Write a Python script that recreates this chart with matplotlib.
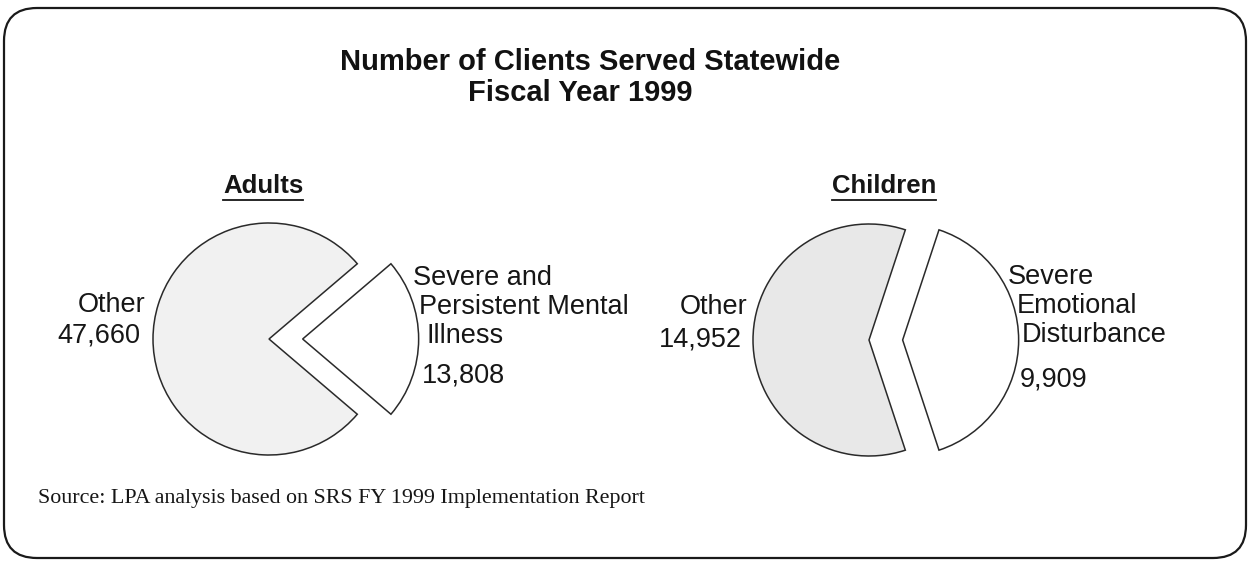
import matplotlib
matplotlib.use("Agg")
import matplotlib.pyplot as plt
from matplotlib.patches import FancyBboxPatch
from matplotlib.lines import Line2D

plt.rcParams["font.family"] = ["Liberation Sans", "DejaVu Sans"]

# ---- data -------------------------------------------------------------
title_lines = ["Number of Clients Served Statewide", "Fiscal Year 1999"]
group_names = ["Adults", "Children"]
other_label = "Other"
adult_counts = [47660, 13808]          # Other, Severe and Persistent Mental Illness
child_counts = [14952, 9909]           # Other, Severe Emotional Disturbance
adult_target_lines = ["Severe and", "Persistent Mental", "Illness"]
child_target_lines = ["Severe", "Emotional", "Disturbance"]
source_note = "Source: LPA analysis based on SRS FY 1999 Implementation Report"

# ---- layout (pixels, y measured from the top) ---------------------------
W, H = 1249, 564
R_PX = 116
fig = plt.figure(figsize=(W / 100, H / 100), dpi=100)
fig.patch.set_facecolor("white")

ov = fig.add_axes([0, 0, 1, 1])
ov.set_xlim(0, W)
ov.set_ylim(H, 0)
ov.axis("off")

# rounded frame
frame = FancyBboxPatch((4, 8), 1242, 550, boxstyle="round,pad=0,rounding_size=33",
                       facecolor="none", edgecolor="#1a1a1a", linewidth=1.6)
ov.add_patch(frame)

# title
ov.text(590, 62, title_lines[0], ha="center", va="center", fontsize=21,
        fontweight="bold", color="#111111")
ov.text(580, 93, title_lines[1], ha="center", va="center", fontsize=21,
        fontweight="bold", color="#111111")


def fmt(n):
    return f"{n:,}"


def draw_pie(cx, cy, counts, other_color):
    left = (cx - 2 * R_PX) / W
    bottom = (H - cy - 2 * R_PX) / H
    ax = fig.add_axes([left, bottom, 4 * R_PX / W, 4 * R_PX / H])
    frac = counts[1] / sum(counts)
    ax.pie(counts, startangle=180 * frac, explode=[0, 0.29], radius=1,
           colors=[other_color, "white"],
           wedgeprops=dict(edgecolor="#2a2a2a", linewidth=1.1))
    ax.set_xlim(-2, 2)
    ax.set_ylim(-2, 2)
    ax.set_aspect("equal")
    ax.axis("off")
    ax.patch.set_alpha(0)
    return [100 * c / sum(counts) for c in counts]


adult_pct = draw_pie(269, 339, adult_counts, "#f1f1f1")
child_pct = draw_pie(869, 340, child_counts, "#e8e8e8")

LBL = 19.5
ink = "#161616"

# group headings, underlined
heads = []
for name, x in zip(group_names, [263, 884]):
    heads.append(ov.text(x, 186, name, ha="center", va="center", fontsize=18.5,
                         fontweight="bold", color=ink))

# Adults labels
ov.text(146, 305, other_label, ha="right", va="center", fontsize=LBL, color=ink)
ov.text(140, 335, fmt(adult_counts[0]), ha="right", va="center", fontsize=LBL, color=ink)
ov.text(221, 335, f"{adult_pct[0]:.0f}%", ha="center", va="center", fontsize=LBL, color=ink)
ov.text(367, 335, f"{adult_pct[1]:.0f}%", ha="center", va="center", fontsize=LBL, color=ink)
for line, x, y in zip(adult_target_lines, [413, 419, 427], [278, 307, 336]):
    ov.text(x, y, line, ha="left", va="center", fontsize=LBL, color=ink)
ov.text(422, 375, fmt(adult_counts[1]), ha="left", va="center", fontsize=LBL, color=ink)

# Children labels
ov.text(748, 307, other_label, ha="right", va="center", fontsize=LBL, color=ink)
ov.text(742, 339, fmt(child_counts[0]), ha="right", va="center", fontsize=LBL, color=ink)
ov.text(812, 338, f"{child_pct[0]:.0f}%", ha="center", va="center", fontsize=LBL, color=ink)
ov.text(957, 338, f"{child_pct[1]:.0f}%", ha="center", va="center", fontsize=LBL, color=ink)
for line, x, y in zip(child_target_lines, [1008, 1017, 1022], [277, 306, 335]):
    ov.text(x, y, line, ha="left", va="center", fontsize=LBL, color=ink)
ov.text(1020, 379, fmt(child_counts[1]), ha="left", va="center", fontsize=LBL, color=ink)

# source note
ov.text(38, 499, source_note, ha="left", va="center", fontsize=15.8,
        family=["Liberation Serif", "DejaVu Serif"], color=ink)

# underline the headings from their rendered extents
fig.canvas.draw()
inv = ov.transData.inverted()
for t in heads:
    bb = t.get_window_extent()
    (x0, y0), (x1, _) = inv.transform([(bb.x0, bb.y0), (bb.x1, bb.y0)])
    ov.add_line(Line2D([x0, x1], [y0 + 1.5, y0 + 1.5], color=ink, linewidth=1.3))

fig.savefig("out.png", dpi=100)
